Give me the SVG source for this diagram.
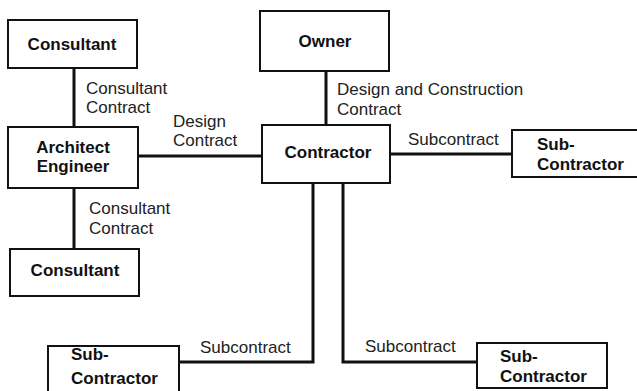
<svg xmlns="http://www.w3.org/2000/svg" width="637" height="391" viewBox="0 0 637 391">
  <style>
    .box { fill: #fff; stroke: #111; stroke-width: 2; }
    .link { fill: none; stroke: #111; stroke-width: 3; stroke-linejoin: miter; }
    .name { font-family: "Liberation Sans", Arial, sans-serif; font-weight: bold; font-size: 17px; fill: #111; }
    .c { text-anchor: middle; }
    .lbl { font-family: "Liberation Sans", Arial, sans-serif; font-size: 17px; fill: #222; }
  </style>
  <rect width="637" height="391" fill="#fff"/>

  <!-- contract lines -->
  <g id="connectors">
    <line class="link" x1="74" y1="68" x2="74" y2="127"/>
    <line class="link" x1="74" y1="188" x2="74" y2="249"/>
    <line class="link" x1="138" y1="156" x2="262" y2="156"/>
    <line class="link" x1="326" y1="71" x2="326" y2="125"/>
    <line class="link" x1="390" y1="154" x2="512" y2="154"/>
    <polyline class="link" points="313,183 313,362 179,362"/>
    <polyline class="link" points="343,183 343,362 477,362"/>
    <text class="lbl" x="86" y="94">Consultant</text>
    <text class="lbl" x="86" y="113">Contract</text>
    <text class="lbl" x="89" y="214">Consultant</text>
    <text class="lbl" x="89" y="234">Contract</text>
    <text class="lbl" x="173" y="127">Design</text>
    <text class="lbl" x="173" y="146">Contract</text>
    <text class="lbl" x="337" y="95">Design and Construction</text>
    <text class="lbl" x="337" y="115">Contract</text>
    <text class="lbl" x="408" y="145">Subcontract</text>
    <text class="lbl" x="200" y="353">Subcontract</text>
    <text class="lbl" x="365" y="352">Subcontract</text>
  </g>

  <g id="consultant-top">
    <rect class="box" x="8" y="20" width="129" height="48"/>
    <text class="name c" x="72" y="50">Consultant</text>
  </g>

  <g id="architect-engineer">
    <rect class="box" x="8" y="127" width="130" height="61"/>
    <text class="name c" x="73" y="153">Architect</text>
    <text class="name c" x="73" y="172">Engineer</text>
  </g>

  <g id="consultant-bottom">
    <rect class="box" x="10" y="249" width="129" height="47"/>
    <text class="name c" x="75" y="276">Consultant</text>
  </g>

  <g id="owner">
    <rect class="box" x="260" y="11" width="129" height="60"/>
    <text class="name c" x="325" y="47">Owner</text>
  </g>

  <g id="contractor">
    <rect class="box" x="262" y="125" width="128" height="58"/>
    <text class="name c" x="328" y="158">Contractor</text>
  </g>

  <g id="subcontractor-right">
    <rect class="box" x="512" y="130" width="130" height="47"/>
    <text class="name" x="537" y="150">Sub-</text>
    <text class="name" x="537" y="170">Contractor</text>
  </g>

  <g id="subcontractor-bottom-left">
    <rect class="box" x="48" y="346" width="131" height="50"/>
    <text class="name" x="71" y="360">Sub-</text>
    <text class="name" x="71" y="384">Contractor</text>
  </g>

  <g id="subcontractor-bottom-right">
    <rect class="box" x="477" y="343" width="130" height="45"/>
    <text class="name" x="500" y="362">Sub-</text>
    <text class="name" x="500" y="382">Contractor</text>
  </g>
</svg>
